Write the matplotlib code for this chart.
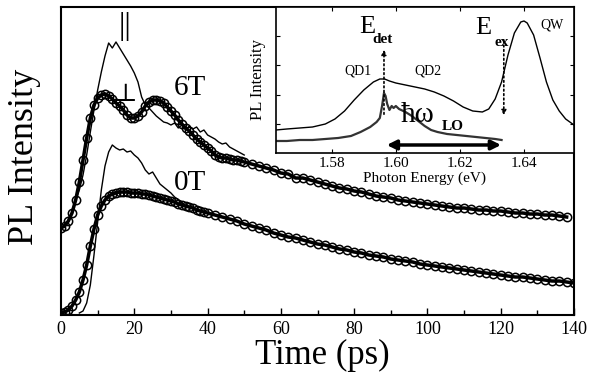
import matplotlib
matplotlib.use("Agg")
import matplotlib.pyplot as plt
from matplotlib.ticker import MultipleLocator

plt.rcParams['font.family'] = ['Liberation Serif', 'DejaVu Serif']

# main panel: time-resolved PL (arbitrary units)
t_6t = list(range(0, 51)) + list(range(52, 139, 2))
pl_6t_perp = [87, 89, 94, 102, 115, 133, 155, 177, 197, 210, 217, 220, 221, 219, 216, 212, 209, 205, 200, 197,
              197, 199, 203, 209, 213, 215, 215, 214, 212, 208, 204, 200, 195, 191, 187, 184, 180, 176, 173, 170,
              167, 164, 160, 158, 157, 157, 156, 155, 155, 154, 153,
              151, 149, 147, 145, 142, 141, 137, 137, 135, 133, 131, 129, 127, 126, 124, 123, 121, 119, 118, 117,
              115, 114, 113, 112, 111, 110, 109, 108, 107, 107, 106, 105, 105, 104, 104, 103, 102, 102, 101, 101,
              100, 100, 99, 98]

t_6t_par = list(range(0, 51))
pl_6t_par = [87, 90, 94, 102, 114, 125, 140, 160, 183, 205, 225, 243, 259, 272, 267, 273, 267, 261, 255, 249,
             242, 233, 218, 210, 207, 203, 199, 196, 193, 192, 190, 192, 187, 190, 185, 189, 186, 188, 183, 185,
             180, 178, 176, 173, 171, 172, 168, 166, 164, 162, 160]

t_0t = list(range(0, 41)) + list(range(42, 141, 2))
pl_0t_perp = [2, 3, 5, 9, 15, 23, 35, 50, 69, 86, 100, 109, 115, 119, 121, 122, 123, 123, 123, 122,
              122, 122, 121, 121, 120, 119, 118, 117, 116, 115, 114, 113, 111, 110, 109, 108, 107, 105, 104, 103, 102,
              100, 98, 96, 94, 91, 89, 87, 85, 82, 80, 78, 77, 75, 73, 71, 70, 68, 66, 65, 63,
              62, 60, 59, 58, 56, 55, 54, 53, 51, 50, 49, 48, 47, 46, 45, 44, 43, 42, 41, 40,
              39, 38, 38, 37, 36, 35, 34, 34, 33, 32]

t_0t_par = list(range(5, 34))
pl_0t_par = [2, 4, 12, 30, 60, 93, 125, 149, 163, 170, 167, 165, 166, 163, 164, 160, 157, 152, 145, 141,
             143, 137, 131, 128, 125, 122, 118, 115, 112]

# inset: PL and PLE spectra
e_pl = [1.5626, 1.566, 1.570, 1.574, 1.578, 1.581, 1.584, 1.587, 1.590, 1.593, 1.595, 1.5965, 1.598, 1.600,
        1.603, 1.606, 1.609, 1.612, 1.615, 1.618, 1.621, 1.624, 1.627, 1.629, 1.631, 1.633, 1.635, 1.637,
        1.639, 1.640, 1.641, 1.643, 1.645, 1.647, 1.649, 1.651, 1.653, 1.6556]
pl_spec = [23, 24, 25, 26, 29, 34, 42, 53, 63, 71, 74, 74, 72, 70, 68, 66, 64, 61, 57, 52, 46, 42, 41, 44,
           54, 71, 98, 120, 131, 132, 130, 118, 95, 71, 53, 42, 34, 28]

e_ple = [1.5626, 1.566, 1.570, 1.574, 1.578, 1.582, 1.586, 1.589, 1.592, 1.594, 1.595, 1.5957, 1.5963,
         1.5968, 1.5973, 1.598, 1.5987, 1.5993, 1.600, 1.601, 1.603, 1.605, 1.607, 1.609, 1.611, 1.613,
         1.616, 1.619, 1.622, 1.625, 1.628, 1.631, 1.633]
ple_spec = [12, 12, 13, 13, 14, 15, 17, 21, 26, 31, 35, 47, 60, 57, 49, 43, 47, 45, 47, 44, 41, 37, 32, 27,
            23, 21, 19, 18, 17, 16, 15, 14, 13]

e_det = 1.5963
e_ex = 1.6337

fig = plt.figure(figsize=(5.89, 3.76), dpi=100)
ax = fig.add_axes([0.1036, 0.1622, 0.8709, 0.8192])

ax.plot(t_6t_par, pl_6t_par, color='black', lw=1.0)
ax.plot(t_0t_par, pl_0t_par, color='black', lw=1.0)
ax.plot(t_6t, pl_6t_perp, color='black', lw=2.5, marker='o', ms=6, mfc='none', mec='black', mew=1.1)
ax.plot(t_0t, pl_0t_perp, color='black', lw=2.5, marker='o', ms=6, mfc='none', mec='black', mew=1.1)

ax.set_xlim(0, 140)
ax.set_ylim(0, 308)
ax.set_yticks([])
ax.xaxis.set_major_locator(MultipleLocator(20))
ax.xaxis.set_minor_locator(MultipleLocator(10))
ax.tick_params(axis='x', which='major', direction='in', length=5, width=1, labelsize=13, pad=4)
ax.tick_params(axis='x', which='minor', direction='in', length=3.5, width=1)
for s in ax.spines.values():
    s.set_linewidth(1.5)
ax.set_xlabel('Time (ps)', fontsize=25)
ax.xaxis.set_label_coords(0.51, -0.077)
ax.set_ylabel('PL Intensity', fontsize=26)
ax.yaxis.set_label_coords(-0.04, 0.513)

ax.text(17.5, 288, '||', fontsize=23, ha='center', va='center')
ax.text(17.5, 220, '\u22a5', fontsize=18, ha='center', va='center')
ax.text(35.2, 227, '6T', fontsize=21, ha='center', va='center')
ax.text(35.2, 132, '0T', fontsize=21, ha='center', va='center')

# inset
ins = fig.add_axes([0.4686, 0.5931, 0.5059, 0.3883])
ins.plot(e_pl, pl_spec, color='black', lw=1.0)
ins.plot(e_ple, ple_spec, color='#333333', lw=1.6)
ins.set_xlim(1.5626, 1.6556)
ins.set_ylim(0, 146)
ins.set_xticks([1.58, 1.60, 1.62, 1.64])
ins.set_xticklabels(['1.58', '1.60', '1.62', '1.64'])
ins.set_yticks([29.2, 58.4, 87.6, 116.8])
ins.set_yticklabels([])
ins.tick_params(direction='in', top=True, right=True, length=3, width=0.8, labelsize=11, pad=3)
for s in ins.spines.values():
    s.set_linewidth(1.2)
ins.set_xlabel('Photon Energy (eV)', fontsize=11, labelpad=1)
ins.set_ylabel('PL Intensity', fontsize=12, labelpad=4)

ins.annotate('', xy=(e_det, 106), xytext=(e_det, 36),
             arrowprops=dict(arrowstyle='-|>', ls=':', lw=1.2, color='black', mutation_scale=7))
ins.annotate('', xy=(e_ex, 35), xytext=(e_ex, 115),
             arrowprops=dict(arrowstyle='-|>', ls=':', lw=1.2, color='black', mutation_scale=7))
ins.annotate('', xy=(e_det, 8), xytext=(e_ex, 8),
             arrowprops=dict(arrowstyle='<|-|>', lw=2.5, color='black', mutation_scale=14))

ins.text(1.591, 126, 'E', fontsize=19, ha='center', va='center')
ins.text(1.5959, 113, 'det', fontsize=11, weight='bold', ha='center', va='center')
ins.text(1.6272, 125, 'E', fontsize=19, ha='center', va='center')
ins.text(1.6331, 110, 'ex', fontsize=11, weight='bold', ha='center', va='center')
ins.text(1.6487, 128, 'QW', fontsize=10, ha='center', va='center')
ins.text(1.5882, 82, 'QD1', fontsize=10, ha='center', va='center')
ins.text(1.610, 82, 'QD2', fontsize=10, ha='center', va='center')
ins.text(1.6068, 38, '\u0127\u03c9', fontsize=21, ha='center', va='center')
ins.text(1.6178, 26, 'LO', fontsize=11, weight='bold', ha='center', va='center')

fig.savefig('out.png', dpi=100)
